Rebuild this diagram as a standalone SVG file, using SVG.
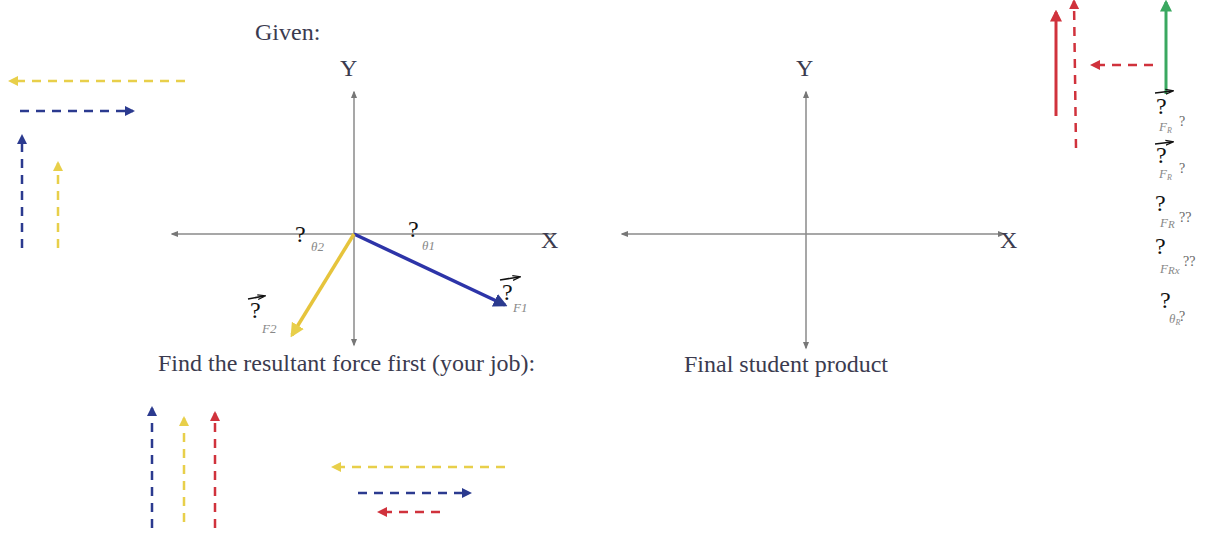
<svg xmlns="http://www.w3.org/2000/svg" width="1226" height="535" viewBox="0 0 1226 535">
<defs>
<style>
.lbl{font-family:"Liberation Serif","Times New Roman",serif;fill:#3b3b4f;font-size:24px}
.q{font-family:"Liberation Serif","Times New Roman",serif;fill:#111;font-size:24px}
.sm{font-family:"Liberation Serif","Times New Roman",serif;fill:#888;font-size:13px;font-style:italic}
.smq{font-family:"Liberation Serif","Times New Roman",serif;fill:#666;font-size:14px}
.axis{stroke:#8a8a8a;stroke-width:1.5;fill:none}
.dash{stroke-width:2.5;stroke-dasharray:9,7;fill:none}
.blue{stroke:#2b3a8f}
.yel{stroke:#e8cf4a}
.red{stroke:#d0323c}
.over{stroke:#111;stroke-width:1.6;fill:none}
</style>
<marker id="ga" viewBox="0 0 10 10" refX="8" refY="5" markerWidth="5" markerHeight="5" orient="auto"><path d="M0,1 L10,5 L0,9 z" fill="#777"/></marker>
<marker id="ab" viewBox="0 0 10 10" refX="8" refY="5" markerWidth="4" markerHeight="4" orient="auto"><path d="M0,0 L10,5 L0,10 z" fill="#2b3a8f"/></marker>
<marker id="ay" viewBox="0 0 10 10" refX="8" refY="5" markerWidth="4" markerHeight="4" orient="auto"><path d="M0,0 L10,5 L0,10 z" fill="#e8cf4a"/></marker>
<marker id="ar" viewBox="0 0 10 10" refX="8" refY="5" markerWidth="4" markerHeight="4" orient="auto"><path d="M0,0 L10,5 L0,10 z" fill="#d0323c"/></marker>
<marker id="ag" viewBox="0 0 10 10" refX="8" refY="5" markerWidth="4" markerHeight="4" orient="auto"><path d="M0,0 L10,5 L0,10 z" fill="#3aa860"/></marker>
<marker id="ak" viewBox="0 0 10 10" refX="8" refY="5" markerWidth="5" markerHeight="5" orient="auto"><path d="M0,2 L10,5 L0,8" stroke="#111" stroke-width="1.5" fill="none"/></marker>
</defs>
<rect width="1226" height="535" fill="#fff"/>

<g id="titles">
<text class="lbl" x="255" y="40" font-size="22">Given:</text>
<text class="lbl" x="158" y="371">Find the resultant force first (your job):</text>
<text class="lbl" x="684" y="372">Final student product</text>
</g>

<g id="given-axes">
<line class="axis" x1="354" y1="234" x2="556" y2="234"/>
<line class="axis" x1="354" y1="234" x2="172" y2="234" marker-end="url(#ga)"/>
<line class="axis" x1="354" y1="234" x2="354" y2="92" marker-end="url(#ga)"/>
<line class="axis" x1="354" y1="234" x2="354" y2="345" marker-end="url(#ga)"/>
<text class="lbl" x="340" y="76">Y</text>
<text class="lbl" x="541" y="248">X</text>
</g>

<g id="product-axes">
<line class="axis" x1="806" y1="234" x2="1004" y2="234" marker-end="url(#ga)"/>
<line class="axis" x1="806" y1="234" x2="622" y2="234" marker-end="url(#ga)"/>
<line class="axis" x1="806" y1="234" x2="806" y2="92" marker-end="url(#ga)"/>
<line class="axis" x1="806" y1="234" x2="806" y2="348" marker-end="url(#ga)"/>
<text class="lbl" x="796" y="76">Y</text>
<text class="lbl" x="1000" y="248">X</text>
</g>

<g id="vectors">
<line x1="354" y1="234" x2="505" y2="305" stroke="#2d34a8" stroke-width="3.5" marker-end="url(#ab)"/>
<line x1="354" y1="234" x2="292" y2="335" stroke="#e6c43c" stroke-width="3.5" marker-end="url(#ay)"/>
</g>

<g id="vector-labels">
<text class="q" x="295" y="242">?</text>
<text class="sm" x="311" y="251">θ2</text>
<text class="q" x="408" y="237">?</text>
<text class="sm" x="422" y="250">θ1</text>
<path class="over" d="M500,280 L519,277" marker-end="url(#ak)"/>
<text class="q" x="502" y="300">?</text>
<text class="sm" x="513" y="312">F1</text>
<path class="over" d="M248,299 L264,296" marker-end="url(#ak)"/>
<text class="q" x="250" y="318">?</text>
<text class="sm" x="262" y="333">F2</text>
</g>

<g id="topleft-components">
<line class="dash yel" x1="185" y1="81" x2="10" y2="81" marker-end="url(#ay)"/>
<line class="dash blue" x1="20" y1="111" x2="133" y2="111" marker-end="url(#ab)"/>
<line class="dash blue" x1="22" y1="248" x2="22" y2="136" marker-end="url(#ab)"/>
<line class="dash yel" x1="58" y1="248" x2="58" y2="163" marker-end="url(#ay)"/>
</g>

<g id="topright-components">
<line x1="1056" y1="116" x2="1056" y2="12" stroke="#d0323c" stroke-width="3" marker-end="url(#ar)"/>
<line class="dash red" x1="1076" y1="148" x2="1074" y2="1" marker-end="url(#ar)"/>
<line class="dash red" x1="1153" y1="65" x2="1092" y2="65" marker-end="url(#ar)"/>
<line x1="1166" y1="94" x2="1166" y2="2" stroke="#3aa860" stroke-width="3" marker-end="url(#ag)"/>
</g>

<g id="topright-labels">
<path class="over" d="M1155,93 L1172,91" marker-end="url(#ak)"/>
<text class="q" x="1156" y="114">?</text>
<text class="sm" x="1159" y="131">F<tspan font-size="8" dy="2">R</tspan></text>
<text class="smq" x="1179" y="126">?</text>
<path class="over" d="M1155,144 L1172,142" marker-end="url(#ak)"/>
<text class="q" x="1156" y="163">?</text>
<text class="sm" x="1159" y="178">F<tspan font-size="8" dy="2">R</tspan></text>
<text class="smq" x="1179" y="173">?</text>
<text class="q" x="1155" y="211">?</text>
<text class="sm" x="1160" y="227" font-size="15">F<tspan font-size="11" dy="1">R</tspan></text>
<text class="smq" x="1179" y="222">??</text>
<text class="q" x="1155" y="254">?</text>
<text class="sm" x="1160" y="273" font-size="15">F<tspan font-size="11" dy="1">Rx</tspan></text>
<text class="smq" x="1183" y="266">??</text>
<text class="q" x="1160" y="308">?</text>
<text class="sm" x="1169" y="323">θ<tspan font-size="8" dy="2">R</tspan></text>
<text class="smq" x="1179" y="321">?</text>
</g>

<g id="bottom-components">
<line class="dash blue" x1="152" y1="528" x2="152" y2="408" marker-end="url(#ab)"/>
<line class="dash yel" x1="184" y1="522" x2="184" y2="418" marker-end="url(#ay)"/>
<line class="dash red" x1="215" y1="528" x2="215" y2="413" marker-end="url(#ar)"/>
<line class="dash yel" x1="505" y1="467" x2="333" y2="467" marker-end="url(#ay)"/>
<line class="dash blue" x1="358" y1="493" x2="470" y2="493" marker-end="url(#ab)"/>
<line class="dash red" x1="440" y1="512" x2="379" y2="512" marker-end="url(#ar)"/>
</g>
</svg>
